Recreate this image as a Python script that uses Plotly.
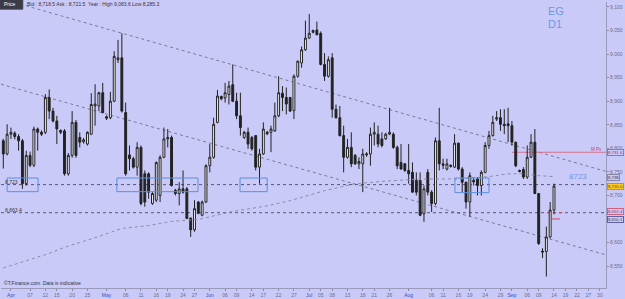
import plotly.graph_objects as go

# ---------------- data ----------------
open_ = [8816, 8788, 8830, 8832, 8825, 8816, 8725, 8785, 8764, 8841,
         8834, 8834, 8908, 8879, 8858, 8838, 8837, 8746, 8785, 8855,
         8823, 8814, 8809, 8830, 8890, 8890, 8918, 8867, 8865, 8900,
         8988, 8992, 8876, 8786, 8778, 8760, 8802, 8746, 8746, 8683,
         8690, 8700, 8781, 8820, 8823, 8711, 8704, 8714, 8714, 8652,
         8627, 8686, 8658, 8686, 8763, 8781, 8855, 8910, 8907, 8914,
         8935, 8900, 8869, 8823, 8834, 8823, 8827, 8760, 8788, 8834,
         8834, 8837, 8869, 8917, 8908, 8908,
         8880, 8953, 8981, 9009, 9034, 9046, 9051, 9044, 8978, 8953,
         8992, 8883, 8865, 8827, 8781, 8802, 8785, 8767, 8767, 8786,
         8788, 8830, 8830, 8820, 8820, 8830, 8830, 8802, 8770, 8767,
         8753, 8749, 8732, 8732, 8661, 8749, 8707, 8683, 8816, 8767,
         8756, 8764, 8760, 8811, 8756, 8728, 8686, 8732, 8735, 8721,
         8749, 8806, 8827, 8862, 8865, 8851, 8852, 8848, 8813, 8753,
         8755, 8739, 8781, 8813, 8704, 8582, 8581, 8612, 8669]
high = [8820, 8851, 8844, 8836, 8830, 8820, 8795, 8793, 8846, 8844,
        8838, 8915, 8925, 8886, 8869, 8840, 8841, 8790, 8879, 8860,
        8834, 8822, 8836, 8917, 8936, 8920, 8939, 8870, 8920, 9006,
        9030, 9044, 8897, 8806, 8782, 8813, 8806, 8753, 8749, 8707,
        8772, 8785, 8844, 8841, 8827, 8714, 8728, 8753, 8718, 8653,
        8690, 8688, 8689, 8766, 8809, 8865, 8924, 8912, 8939, 8943,
        8978, 8918, 8918, 8837, 8844, 8826, 8828, 8799, 8855, 8837,
        8848, 8897, 8953, 8932, 8929, 8909,
        8957, 8986, 9016, 9071, 9085, 9052, 9069, 9048, 9002, 8995,
        9002, 8893, 8890, 8848, 8820, 8834, 8788, 8781, 8799, 8792,
        8844, 8855, 8848, 8834, 8833, 8886, 8834, 8806, 8809, 8769,
        8809, 8770, 8749, 8749, 8721, 8756, 8711, 8823, 8886, 8778,
        8778, 8766, 8830, 8812, 8760, 8729, 8749, 8739, 8739, 8753,
        8813, 8837, 8869, 8879, 8883, 8883, 8886, 8858, 8814, 8755,
        8760, 8806, 8830, 8841, 8705, 8588, 8634, 8686, 8725]
low = [8757, 8785, 8820, 8819, 8795, 8714, 8721, 8760, 8760, 8795,
       8826, 8830, 8862, 8855, 8809, 8830, 8742, 8742, 8780, 8780,
       8802, 8810, 8806, 8828, 8848, 8879, 8874, 8860, 8862, 8898,
       8981, 8876, 8742, 8753, 8757, 8742, 8679, 8676, 8693, 8680,
       8686, 8686, 8779, 8802, 8719, 8700, 8679, 8704, 8650, 8612,
       8623, 8660, 8656, 8684, 8749, 8778, 8853, 8902, 8897, 8893,
       8898, 8862, 8827, 8820, 8799, 8795, 8753, 8725, 8786, 8828,
       8792, 8835, 8866, 8879, 8872, 8877,
       8862, 8950, 8971, 9007, 9032, 9044, 9040, 8976, 8943, 8950,
       8865, 8863, 8825, 8749, 8778, 8760, 8765, 8756, 8707, 8782,
       8763, 8806, 8802, 8802, 8818, 8828, 8799, 8756, 8755, 8750,
       8725, 8706, 8700, 8656, 8644, 8700, 8665, 8679, 8753, 8756,
       8753, 8759, 8758, 8753, 8707, 8672, 8655, 8721, 8700, 8700,
       8747, 8799, 8825, 8858, 8837, 8830, 8813, 8806, 8760, 8749,
       8735, 8735, 8780, 8703, 8595, 8567, 8528, 8609, 8660]
close = [8788, 8830, 8834, 8825, 8816, 8725, 8785, 8764, 8841, 8834,
         8830, 8908, 8879, 8858, 8841, 8834, 8746, 8785, 8855, 8785,
         8813, 8818, 8834, 8893, 8894, 8918, 8876, 8864, 8900, 8995,
         8992, 8879, 8746, 8778, 8760, 8802, 8683, 8686, 8707, 8704,
         8770, 8781, 8820, 8823, 8721, 8704, 8714, 8707, 8651, 8627,
         8672, 8662, 8686, 8763, 8781, 8851, 8911, 8905, 8918, 8932,
         8900, 8869, 8844, 8834, 8809, 8799, 8760, 8788, 8841, 8831,
         8841, 8869, 8918, 8908, 8894, 8879,
         8953, 8985, 9009, 9034, 9044, 9050, 9041, 8978, 8953, 8988,
         8883, 8865, 8827, 8781, 8802, 8767, 8767, 8772, 8788, 8788,
         8830, 8834, 8809, 8806, 8830, 8834, 8802, 8763, 8756, 8753,
         8746, 8707, 8707, 8658, 8714, 8707, 8683, 8816, 8767, 8764,
         8767, 8762, 8811, 8756, 8728, 8686, 8742, 8729, 8721, 8749,
         8806, 8827, 8855, 8865, 8851, 8848, 8848, 8813, 8763, 8751,
         8739, 8781, 8813, 8704, 8598, 8580, 8612, 8669, 8720]

# moving average (read at a few bars)
ma_bar = [0, 12, 16, 25, 31, 38, 44, 51, 60, 69, 75, 84, 92, 101, 110, 119, 127, 132, 136, 140, 144]
ma_val = [8546, 8577, 8590, 8613, 8630, 8636, 8645, 8649, 8666, 8678, 8689, 8710, 8725,
          8731, 8735, 8735, 8740, 8746, 8746, 8742, 8740]

tick_bar = [2, 7, 11, 14, 18, 22, 27, 32, 36, 40, 43, 47, 50, 54, 58, 61, 65, 68, 72, 76,
            80, 83, 86, 90, 94, 97, 101, 106, 112, 115, 119, 122, 126, 130, 133, 137, 140,
            144, 147, 150, 153, 156]
tick_label = ["Apr", "07", "12", "15", "20", "25", "May", "06", "11", "16", "19", "24", "27",
              "Jun", "06", "09", "14", "17", "22", "27", "Jul", "05", "08", "13", "18", "21",
              "26", "Aug", "06", "11", "16", "19", "24", "29", "Sep", "06", "09", "14", "19",
              "22", "27", "30"]
months = {"Apr", "May", "Jun", "Jul", "Aug", "Sep"}

y_ticks = [9100, 9050, 9000, 8950, 8900, 8850, 8800, 8750, 8700, 8650, 8600, 8550]

support = 8723
level_low = 8663.4
level_low2 = 8650.1
pivot = 8791.6
last_price = 8720.0
ma_last = 8738

# trendlines (bar, value)
upper_line = [(4.4, 9106), (157.6, 8751)]
lower_line = [(-0.6, 8936), (157.6, 8574)]

# boxes (bar0, bar1, v0, v1)
boxes = [(1.0, 9.1, 8708, 8737), (29.7, 50.9, 8708, 8737),
         (61.9, 69.0, 8708, 8737), (118.1, 127.0, 8706, 8737)]

# ---------------- figure ----------------
n = len(close)
x = list(range(n))
hi = [max(h, o, c) for h, o, c in zip(high, open_, close)]
lo = [min(l, o, c) for l, o, c in zip(low, open_, close)]

BG = "#cacaf8"
XR = [-0.6, 157.6]
YR = [8503.6, 9110.5]
FONT = "Liberation Sans, Arial"

fig = go.Figure()
fig.add_trace(go.Scatter(x=ma_bar, y=ma_val, mode="lines",
                         line=dict(color="#8c8ca8", width=1, dash="dot"),
                         hoverinfo="skip", showlegend=False))
fig.add_trace(go.Candlestick(
    x=x, open=open_, high=hi, low=lo, close=close,
    increasing=dict(fillcolor="#ffffff", line=dict(color="#222222", width=1)),
    decreasing=dict(fillcolor="#222222", line=dict(color="#222222", width=1)),
    whiskerwidth=0, showlegend=False))

shapes = []
def seg(x0, y0, x1, y1, color, dash="dot", width=1):
    shapes.append(dict(type="line", xref="x", yref="y", x0=x0, y0=y0, x1=x1, y1=y1,
                       line=dict(color=color, width=width, dash=dash), layer="below"))

seg(upper_line[0][0], upper_line[0][1], upper_line[1][0], upper_line[1][1], "#7a7a98")
seg(lower_line[0][0], lower_line[0][1], lower_line[1][0], lower_line[1][1], "#7a7a98")
seg(XR[0], support, XR[1], support, "#55557a")
seg(XR[0], level_low, XR[1], level_low, "#55557a")
seg(133, pivot, XR[1], pivot, "#d8708c", dash="solid")
seg(142.2, level_low, 147.0, level_low, "#d84060", dash="dot")
seg(143.5, level_low2, 145.6, level_low2, "#d84060", dash="solid")
for b in boxes:
    shapes.append(dict(type="rect", xref="x", yref="y", x0=b[0], x1=b[1], y0=b[2], y1=b[3],
                       line=dict(color="#5b8fdc", width=1), fillcolor="rgba(0,0,0,0)"))
# header price box
shapes.append(dict(type="rect", xref="paper", yref="paper", x0=-0.002, x1=0.036,
                   y0=0.975, y1=1.01, line=dict(color="#444", width=1), fillcolor="#3a3a48"))

ann = []
def txt(text, x, y, size=5, color="#333344", xanchor="left", xref="paper", yref="paper",
        yanchor="middle", **kw):
    ann.append(dict(text=text, x=x, y=y, xref=xref, yref=yref, showarrow=False,
                    xanchor=xanchor, yanchor=yanchor,
                    font=dict(size=size, color=color, family=FONT), **kw))

txt("Price", 0.001, 0.992, size=5, color="#ffffff")
txt("Bid : 8,718.5 Ask : 8,721.5  Year : High 9,083.6 Low 8,285.3", 0.040, 0.992, size=5)
txt("©T.Finance.com .Data is indicative", 0.002, 0.0, size=5, yanchor="bottom")
txt("EG", 0.901, 0.970, size=11, color="#6a98e8")
txt("D1", 0.901, 0.923, size=11, color="#6a98e8")
txt("8723", 0.935, 0.389, size=8, color="#6a98e8")
txt("8,723", 0.003, support, size=5, yref="y", yshift=3)
txt("8,663.4", 0.003, level_low, size=5, yref="y", yshift=3)
txt("M Pv", 0.996, pivot, size=4.5, color="#c04060", xanchor="right", yref="y", yshift=3)

def tag(text, v, border, bg, color="#333344", yshift=0):
    ann.append(dict(text=text, x=1, y=v, xref="paper", yref="y", showarrow=False,
                    xanchor="left", yanchor="middle", xshift=1, yshift=yshift,
                    font=dict(size=4.3, color=color, family=FONT),
                    bordercolor=border, borderwidth=1, borderpad=0, bgcolor=bg))

tag(f"{pivot:,.1f}", pivot, "#d06080", BG, "#a03050")
tag(f"{ma_last:,}", ma_last, "#8888a0", BG)
tag(f"{last_price:,.1f}", last_price, "#c89a00", "#ffcc22")
tag(f"{level_low:,.1f}", level_low, "#d06080", BG, "#a03050", yshift=1)
tag(f"{level_low2:,.1f}", level_low2, "#6060a0", BG, yshift=-1)

ticktext = [f"<span style='color:#3350c0'>{t}</span>" if t in months else t for t in tick_label]

fig.update_layout(
    width=625, height=299,
    margin=dict(l=1, r=19, t=2, b=9),
    paper_bgcolor=BG, plot_bgcolor=BG,
    shapes=shapes, annotations=ann,
    showlegend=False,
    xaxis=dict(range=XR, rangeslider=dict(visible=False), showgrid=False, zeroline=False,
               tickmode="array", tickvals=tick_bar, ticktext=ticktext,
               tickfont=dict(size=5, color="#6a6a8a", family=FONT),
               ticks="outside", ticklen=2, tickcolor="#8888aa",
               showline=True, linecolor="#9a9abb", linewidth=1, mirror=False),
    yaxis=dict(range=YR, side="right", showgrid=False, zeroline=False,
               tickmode="array", tickvals=y_ticks, ticktext=[f"{v:,}" for v in y_ticks],
               tickfont=dict(size=5, color="#6a6a8a", family=FONT),
               ticks="outside", ticklen=2, tickcolor="#8888aa",
               showline=True, linecolor="#9a9abb", linewidth=1),
)

fig.write_html("out.html", config={"displayModeBar": False})
